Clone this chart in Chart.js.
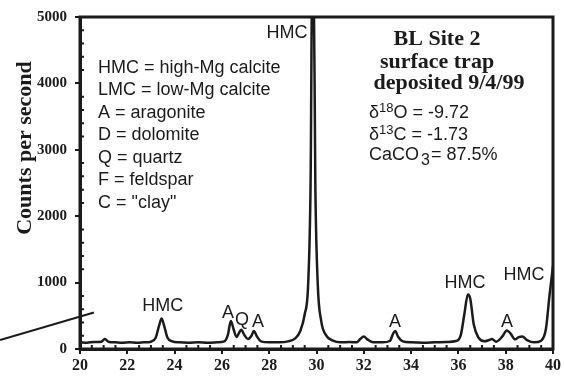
<!DOCTYPE html>
<html>
<head>
<meta charset="utf-8">
<script src="https://cdn.jsdelivr.net/npm/chart.js@4/dist/chart.umd.min.js"></script>
<style>
  html, body { margin: 0; padding: 0; background: #fff; }
  #wrap { width: 564px; height: 377px; }
</style>
</head>
<body>
<div id="wrap"><canvas id="xrd" width="564" height="377"></canvas></div>
<script>
// diffraction angle (degrees 2-theta) and intensity (counts per second)
const twoTheta = [
  20.0, 20.3, 20.6, 20.9, 21.05, 21.2, 21.5, 21.8, 22.1, 22.4, 22.7, 23.0,
  23.2, 23.35, 23.45, 23.55, 23.7, 23.9, 24.2, 24.6, 25.0, 25.4, 25.8, 26.1,
  26.25, 26.38, 26.5, 26.62, 26.75, 26.82, 26.95, 27.1, 27.25, 27.35, 27.48, 27.65,
  28.0, 28.4, 28.8, 29.1, 29.3, 29.5, 29.65, 29.75, 29.82, 29.88, 29.95, 30.05,
  30.2, 30.4, 30.7, 31.0, 31.4, 31.7, 31.85, 32.0, 32.15, 32.4, 32.8, 33.1,
  33.25, 33.33, 33.45, 33.65, 34.0, 34.5, 35.0, 35.5, 35.9, 36.1, 36.25, 36.4,
  36.5, 36.65, 36.85, 37.1, 37.3, 37.42, 37.6, 37.85, 38.05, 38.2, 38.4, 38.55,
  38.7, 38.9, 39.2, 39.5, 39.7, 39.85, 40.0
];
const counts = [
  100, 95, 105, 110, 150, 110, 100, 95, 100, 95, 100, 110,
  170, 360, 460, 360, 170, 115, 100, 95, 100, 95, 100, 115,
  210, 420, 290, 180, 260, 290, 210, 150, 200, 270, 190, 115,
  100, 100, 115, 160, 260, 520, 1000, 2500, 5600, 5600, 2500, 1000,
  420, 210, 125, 100, 105, 100, 150, 190, 145, 100, 100, 120,
  240, 270, 185, 115, 100, 95, 100, 105, 120, 210, 520, 820,
  760, 370, 170, 115, 135, 150, 110, 185, 280, 235, 145, 180,
  190, 135, 100, 125, 300, 800, 1250
];

// y ticks every 1000, x ticks every 2 degrees
const yTicks = [0, 1000, 2000, 3000, 4000, 5000];
const xTicks = [20, 22, 24, 26, 28, 30, 32, 34, 36, 38, 40];

// mineral labels over the peaks
const peakNames = ["HMC", "HMC", "A", "Q", "A", "A", "HMC", "A", "HMC"];
const peakX = [23.5, 28.75, 26.26, 26.85, 27.53, 33.32, 36.28, 38.05, 38.77];
const peakY = [640, 4760, 536, 432, 402, 402, 997, 402, 1116];

// axis break stroke at lower left
const breakX = [16.62, 20.59];
const breakY = [134, 550];

const key = [
  "HMC = high-Mg calcite",
  "LMC = low-Mg calcite",
  "A = aragonite",
  "D = dolomite",
  "Q = quartz",
  "F = feldspar",
  "C = \"clay\""
];
const sampleInfo = ["BL Site 2", "surface trap", "deposited 9/4/99"];

const INK = "#1b1b1b";
const SANS = "'Liberation Sans', Arial, sans-serif";
const SERIF = "'Liberation Serif', 'Times New Roman', serif";

const decorations = {
  id: "decorations",
  afterDatasetsDraw(chart) {
    const ctx = chart.ctx;
    const area = chart.chartArea;
    const xs = chart.scales.x, ys = chart.scales.y;
    ctx.save();

    // heavy frame
    ctx.strokeStyle = INK;
    ctx.lineWidth = 3;
    ctx.strokeRect(area.left, area.top, area.right - area.left, area.bottom - area.top);

    // minor ticks on the inside
    ctx.lineWidth = 2;
    ctx.beginPath();
    for (let v = 20.5; v < 40; v += 0.5) {
      if (v % 2 === 0) continue;
      const px = xs.getPixelForValue(v);
      ctx.moveTo(px, area.bottom);
      ctx.lineTo(px, area.bottom - 4);
    }
    for (let v = 200; v < 5000; v += 200) {
      if (v % 1000 === 0) continue;
      const py = ys.getPixelForValue(v);
      ctx.moveTo(area.left, py);
      ctx.lineTo(area.left + 4, py);
    }
    ctx.stroke();

    ctx.fillStyle = INK;
    ctx.textBaseline = "middle";

    // peak labels
    ctx.font = "18px " + SANS;
    ctx.textAlign = "center";
    peakNames.forEach((name, i) => {
      ctx.fillText(name, xs.getPixelForValue(peakX[i]), ys.getPixelForValue(peakY[i]));
    });

    // abbreviation key
    ctx.textAlign = "left";
    key.forEach((line, i) => {
      ctx.fillText(line, 98, 68 + i * 22.5);
    });

    // sample header
    ctx.font = "bold 22px " + SERIF;
    ctx.textAlign = "center";
    ctx.fillText(sampleInfo[0], 437, 39);
    ctx.fillText(sampleInfo[1], 437, 62);
    ctx.fillText(sampleInfo[2], 449, 83);

    // isotopes and carbonate content
    ctx.textAlign = "left";
    const isotope = (sup, rest, y) => {
      let x = 369;
      ctx.font = "18px " + SANS;
      ctx.fillText("\u03b4", x, y);
      x += ctx.measureText("\u03b4").width;
      ctx.font = "13px " + SANS;
      ctx.fillText(sup, x, y - 5);
      x += ctx.measureText(sup).width;
      ctx.font = "18px " + SANS;
      ctx.fillText(rest, x, y);
    };
    isotope("18", "O = -9.72", 113);
    isotope("13", "C = -1.73", 135);
    ctx.font = "18px " + SANS;
    let cx = 369;
    ctx.fillText("CaCO", cx, 155);
    cx += ctx.measureText("CaCO").width + 2;
    ctx.font = "16px " + SANS;
    ctx.fillText("3", cx, 161);
    cx += ctx.measureText("3").width + 1;
    ctx.font = "18px " + SANS;
    ctx.fillText("= 87.5%", cx, 155);

    // y axis title
    ctx.translate(25, 148);
    ctx.rotate(-Math.PI / 2);
    ctx.textAlign = "center";
    ctx.font = "bold 22px " + SERIF;
    ctx.fillText("Counts per second", 0, 0);
    ctx.restore();
  }
};

new Chart(document.getElementById("xrd").getContext("2d"), {
  type: "line",
  data: {
    datasets: [
      {
        data: twoTheta.map((t, i) => ({ x: t, y: counts[i] })),
        borderColor: INK,
        borderWidth: 2.5,
        pointRadius: 0,
        cubicInterpolationMode: "monotone",
      },
      {
        data: breakX.map((t, i) => ({ x: t, y: breakY[i] })),
        borderColor: INK,
        borderWidth: 2,
        pointRadius: 0,
        clip: false,
      },
    ],
  },
  options: {
    responsive: false,
    animation: false,
    events: [],
    layout: { padding: { top: 13, right: 11, left: 0, bottom: 0 } },
    plugins: { legend: { display: false }, tooltip: { enabled: false } },
    scales: {
      x: {
        type: "linear",
        min: 20,
        max: 40,
        afterBuildTicks: (axis) => { axis.ticks = xTicks.map(v => ({ value: v })); },
        afterFit: (axis) => { axis.height = 28; },
        grid: { drawOnChartArea: false, color: INK, lineWidth: 2, tickLength: 5 },
        border: { color: INK, width: 3 },
        ticks: {
          color: INK,
          padding: 2,
          maxRotation: 0,
          callback: (v) => String(v),
          font: { family: SERIF, weight: "bold", size: 16 },
        },
      },
      y: {
        min: 0,
        max: 5000,
        afterBuildTicks: (axis) => { axis.ticks = yTicks.map(v => ({ value: v })); },
        afterFit: (axis) => { axis.width = 80; },
        grid: { drawOnChartArea: false, color: INK, lineWidth: 2, tickLength: 5 },
        border: { color: INK, width: 3 },
        ticks: {
          color: INK,
          padding: 8,
          callback: (v) => String(v),
          font: { family: SERIF, weight: "bold", size: 15 },
        },
      },
    },
  },
  plugins: [decorations],
});
</script>
</body>
</html>
